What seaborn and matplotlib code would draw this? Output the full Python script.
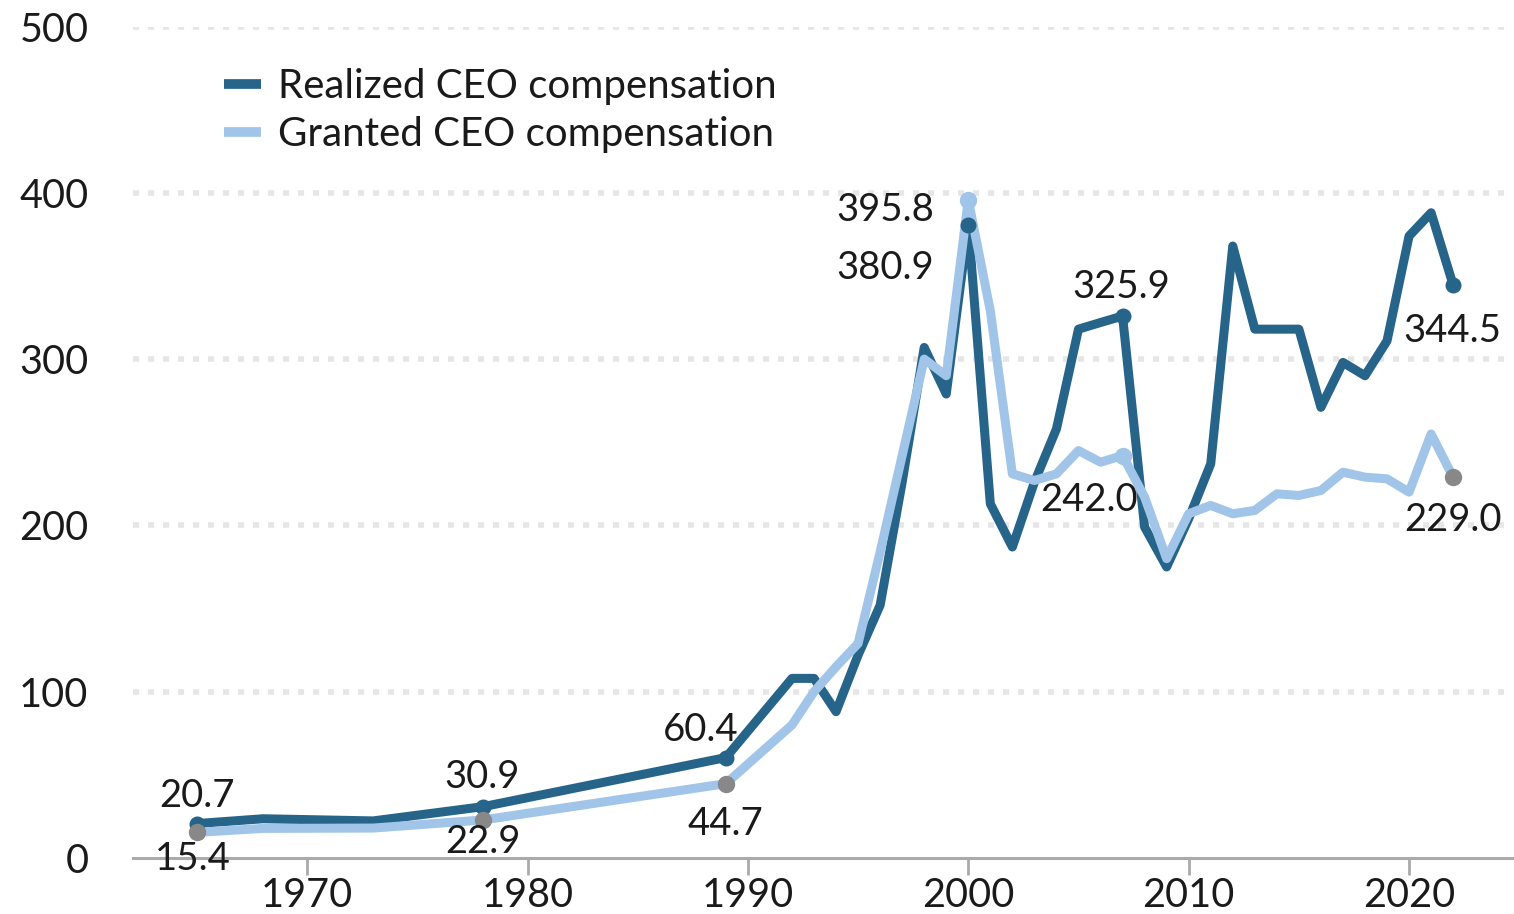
import matplotlib
matplotlib.use("Agg")
import matplotlib.pyplot as plt
import seaborn as sns
import pandas as pd
from matplotlib.lines import Line2D

# ---------------- data ----------------
years = [1965, 1968, 1973, 1978, 1989, 1992, 1993, 1994, 1995, 1996, 1997, 1998,
         1999, 2000, 2001, 2002, 2003, 2004, 2005, 2006, 2007, 2008, 2009, 2010,
         2011, 2012, 2013, 2014, 2015, 2016, 2017, 2018, 2019, 2020, 2021, 2022]
realized = [20.7, 23.6, 22.3, 30.9, 60.4, 108, 108, 88, 122, 152, 226, 307,
            279, 380.9, 213, 187, 226, 258, 318, 322, 325.9, 199, 175, 204,
            237, 368, 318, 318, 318, 271, 298, 290, 311, 374, 388, 344.5]
granted = [15.4, 17.8, 18.0, 22.9, 44.7, 80, 100, 115, 129, 184, 242, 300,
           290, 395.8, 329, 231, 227, 231, 245, 238, 242.0, 217, 180, 207,
           212, 207, 209, 219, 218, 221, 232, 229, 228, 220, 255, 229.0]
series_names = ["Realized CEO compensation", "Granted CEO compensation"]
x_ticks = [1970, 1980, 1990, 2000, 2010, 2020]
y_ticks = [0, 100, 200, 300, 400, 500]
realized_labeled_years = [1965, 1978, 1989, 2000, 2007, 2022]
granted_labeled_years = [1965, 1978, 1989, 2000, 2007, 2022]

DARK = "#27648a"
LIGHT = "#a0c5e8"
GRAY = "#888888"
FS = 27.5
FS_TICK = 28.5
FS_LEG = 29

df = pd.DataFrame({
    "year": years * 2,
    "value": realized + granted,
    "series": [series_names[0]] * len(years) + [series_names[1]] * len(years),
})

sns.set_theme(style="white")
plt.rcParams["font.family"] = ["Lato", "DejaVu Sans"]

W, H = 1514, 914
fig = plt.figure(figsize=(W / 100, H / 100), dpi=100)
ax_left, ax_right, ax_bottom, ax_top = 133, 1512, 858, 26.5
ax = fig.add_axes([ax_left / W, (H - ax_bottom) / H,
                   (ax_right - ax_left) / W, (ax_bottom - ax_top) / H])

# gridlines
for yv in y_ticks[1:]:
    ax.axhline(yv, color="#e6e6e6", lw=4, dashes=(1.1, 1.6), zorder=0)

sns.lineplot(data=df, x="year", y="value", hue="series", hue_order=series_names,
             palette=[DARK, LIGHT], linewidth=6.5, legend=False, sort=False, ax=ax)

ax.set_xlim(1962.1, 2024.67)
ax.set_ylim(0, 500)

# markers
yr_idx = {y: i for i, y in enumerate(years)}
rx = realized_labeled_years
ry = [realized[yr_idx[y]] for y in rx]
ax.plot(rx, ry, "o", ms=10.5, color=DARK, zorder=3, clip_on=False)
gx = granted_labeled_years
gy = [granted[yr_idx[y]] for y in gx]
gcols = [GRAY, GRAY, GRAY, LIGHT, LIGHT, GRAY]
for xx, yy, c in zip(gx, gy, gcols):
    ax.plot([xx], [yy], "o", ms=11.5, color=c, zorder=4, clip_on=False)

# labels (pixel offsets, y up, baseline)
half = 13.5
r_off = {1965: (0, 30, "center"), 1978: (-1, 32, "center"), 1989: (-25, 30, "center"),
         2000: (-34, -41, "right"), 2007: (-1, 32, "center"), 2022: (-1, -43, "center")}
g_off = {1965: (-4, -24, "center"), 1978: (0, -20, "center"), 1989: (0, -38, "center"),
         2000: (-34, -8, "right"), 2007: (-34, -42, "center"), 2022: (0, -40, "center")}
for xx, yy in zip(rx, ry):
    dx, dy, ha = r_off[xx]
    ax.annotate(f"{yy:.1f}", xy=(xx, yy), xytext=(dx, dy - half), textcoords="offset pixels",
                ha=ha, va="baseline", fontsize=FS, color="#1a1a1a", zorder=6,
                annotation_clip=False)
for xx, yy in zip(gx, gy):
    dx, dy, ha = g_off[xx]
    ax.annotate(f"{yy:.1f}", xy=(xx, yy), xytext=(dx, dy - half), textcoords="offset pixels",
                ha=ha, va="baseline", fontsize=FS, color="#1a1a1a", zorder=6,
                annotation_clip=False)

# axes styling
for s in ["top", "right", "left"]:
    ax.spines[s].set_visible(False)
ax.spines["bottom"].set_color("#aaaaaa")
ax.spines["bottom"].set_linewidth(2.2)
ax.spines["bottom"].set_zorder(1)
ax.set_xticks(x_ticks)
ax.set_xticklabels([str(t) for t in x_ticks])
ax.set_yticks(y_ticks)
ax.set_yticklabels([str(t) for t in y_ticks])
ax.tick_params(axis="x", bottom=True, length=12, width=2, color="#aaaaaa", pad=2,
               labelsize=FS_TICK, labelcolor="#1a1a1a")
ax.tick_params(axis="y", left=False, length=0, pad=32, labelsize=FS_TICK, labelcolor="#1a1a1a")
ax.set_xlabel("")
ax.set_ylabel("")
ax.grid(False)

handles = [Line2D([0], [0], color=DARK, lw=7, solid_capstyle="butt"),
           Line2D([0], [0], color=LIGHT, lw=7, solid_capstyle="butt")]
ax.legend(handles, series_names, loc="upper left",
          bbox_to_anchor=((224 - ax_left) / (ax_right - ax_left), 1 - (68 - ax_top) / (ax_bottom - ax_top)),
          frameon=False, handlelength=0.92, handletextpad=0.42, labelspacing=0.28,
          fontsize=FS_LEG, borderpad=0, borderaxespad=0, labelcolor="#1a1a1a")

fig.savefig("out.png", dpi=100)
